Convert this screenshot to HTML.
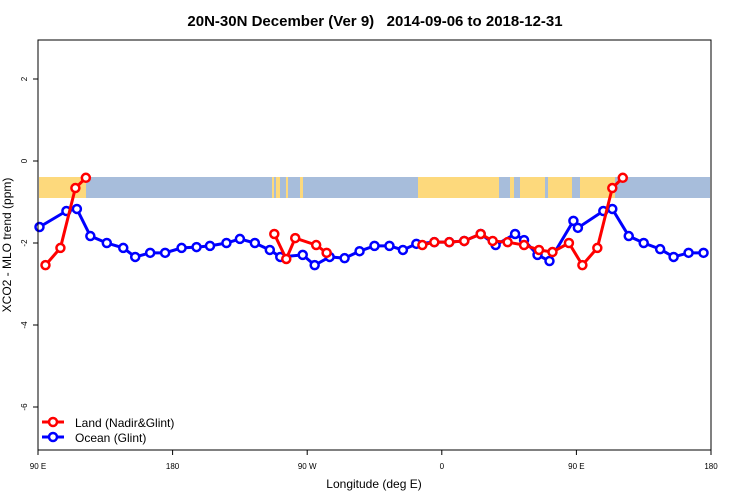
<!DOCTYPE html>
<html><head><meta charset="utf-8"><style>
body{margin:0;background:#fff;}
svg{display:block;font-family:"Liberation Sans",sans-serif;}
</style></head><body>
<svg id="chart" width="750" height="500">
<text x="375" y="26" text-anchor="middle" font-size="15" font-weight="bold" style="white-space:pre">20N-30N December (Ver 9)   2014-09-06 to 2018-12-31</text>
<g id="band"></g>
<g id="marks"></g>
<rect x="38" y="40" width="673" height="410" fill="none" stroke="#000" stroke-width="1"/>
<g id="axes"></g>
<text x="374" y="488" text-anchor="middle" font-size="12">Longitude (deg E)</text>
<text transform="translate(11,245) rotate(-90)" text-anchor="middle" font-size="12">XCO2 - MLO trend (ppm)</text>
<g>
<line x1="42" y1="422" x2="64" y2="422" stroke="#f00" stroke-width="3"/><circle cx="53" cy="422" r="4" fill="#fff" stroke="#f00" stroke-width="2.5"/>
<text x="75" y="427" font-size="12">Land (Nadir&amp;Glint)</text>
<line x1="42" y1="437" x2="64" y2="437" stroke="#00f" stroke-width="3"/><circle cx="53" cy="437" r="4" fill="#fff" stroke="#00f" stroke-width="2.5"/>
<text x="75" y="442" font-size="12">Ocean (Glint)</text>
</g>
</svg>
<script>
const xTicks=[90,180,270,360,450,540];
const xTickLabels=["90 E","180","90 W","0","90 E","180"];
const yTicks=[2,0,-2,-4,-6];
const oceanLon=[91,109,116,125,136,147,155,165,175,186,196,205,216,225,235,245,252,267,275,285,295,305,315,325,334,343,355,365,375,386,396,409,415,424,432,448,451,468,474,485,495,506,515,525,535];
const oceanVal=[-1.61,-1.22,-1.17,-1.83,-2.0,-2.12,-2.34,-2.24,-2.24,-2.12,-2.10,-2.07,-2.0,-1.9,-2.0,-2.17,-2.34,-2.29,-2.54,-2.34,-2.37,-2.2,-2.07,-2.07,-2.17,-2.02,-1.98,-1.98,-1.95,-1.78,-2.05,-1.78,-1.93,-2.29,-2.44,-1.46,-1.63,-1.22,-1.17,-1.83,-2.0,-2.15,-2.34,-2.24,-2.24];
const landLon=[95,105,115,122,null,248,256,262,276,283,null,347,355,365,375,386,394,404,415,425,434,445,454,464,474,481];
const landVal=[-2.54,-2.12,-0.66,-0.41,null,-1.78,-2.39,-1.88,-2.05,-2.24,null,-2.05,-1.98,-1.98,-1.95,-1.78,-1.95,-1.98,-2.05,-2.17,-2.22,-2.0,-2.54,-2.12,-0.66,-0.41];
const NS="http://www.w3.org/2000/svg";
const X=l=>38+(l-90)*673/450;
const Y=v=>161-41*v;
function mk(t,a,p){const e=document.createElementNS(NS,t);for(const k in a)e.setAttribute(k,a[k]);p.appendChild(e);return e;}
const axes=document.getElementById('axes');
xTicks.forEach((t,i)=>{
 const ln=mk('line',{x1:X(t),x2:X(t),y1:450,y2:455,stroke:'#000'},axes);
 
 
 const tx=mk('text',{x:X(t),y:469,'font-size':8,'text-anchor':'middle'},axes);tx.textContent=xTickLabels[i];
 
 
});
yTicks.forEach(t=>{
 const ln=mk('line',{x1:33,x2:38,y1:Y(t),y2:Y(t),stroke:'#000'},axes);
 
 
 const tx=mk('text',{transform:`translate(27,${Y(t)}) rotate(-90)`,'font-size':8,'text-anchor':'middle'},axes);tx.textContent=String(t);
 
 
});
const band=document.getElementById('band');
mk('rect',{x:39,y:177,width:671,height:21,fill:'#a7bddb'},band);
[[39,86],[272,274],[276,280],[286,288],[300,303],[418,499],[510,514],[520,545],[548,572],[580,615]].forEach(r=>{
 const e=mk('rect',{x:r[0],y:177,width:r[1]-r[0],height:21,fill:'#fdd97c'},band);
 
 
});
const marks=document.getElementById('marks');
function series(lon,val,col,name){
 let d='',pen=false;
 lon.forEach((l,i)=>{if(l===null||val[i]===null){pen=false;return;}d+=(pen?'L':'M')+X(l)+','+Y(val[i]);pen=true;});
 const p=mk('path',{d:d,fill:'none',stroke:col,'stroke-width':3},marks);
 
 
 lon.forEach((l,i)=>{if(l===null||val[i]===null)return;
  const c=mk('circle',{cx:X(l),cy:Y(val[i]),r:4,fill:'#fff',stroke:col,'stroke-width':2.5},marks);
  
  
 });
}
series(oceanLon,oceanVal,'#00f','ocean');
series(landLon,landVal,'#f00','land');
</script>
</body></html>
